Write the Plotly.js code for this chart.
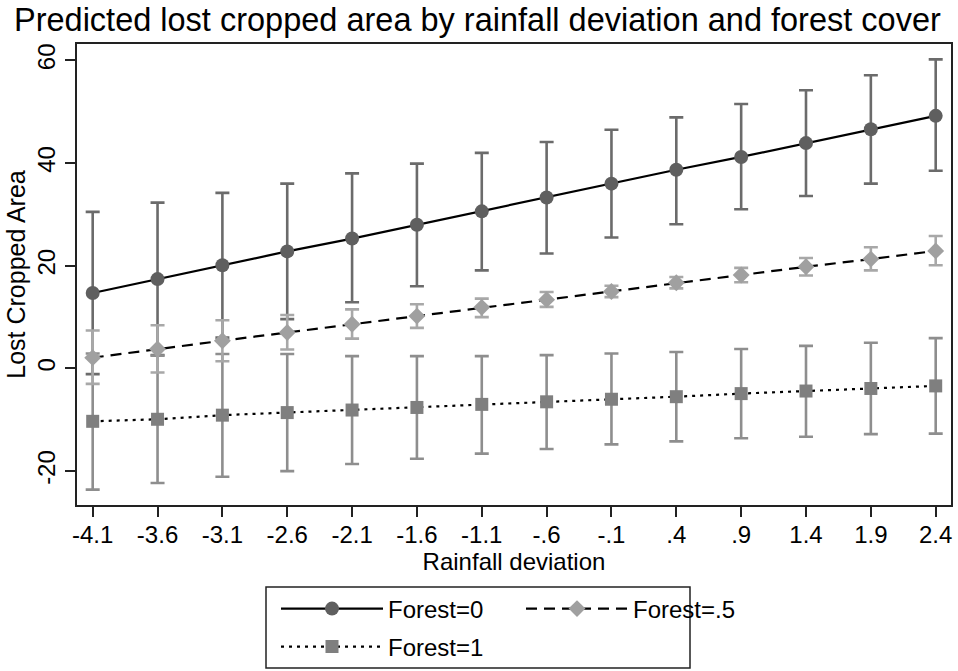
<!DOCTYPE html>
<html><head><meta charset="utf-8">
<script src="https://cdn.plot.ly/plotly-3.0.1.min.js"></script>
<style>html,body{margin:0;padding:0;background:#fff}#chart{width:958px;height:671px}</style>
</head><body><div id="chart"></div>
<script>
const rainfall = [-4.1,-3.6,-3.1,-2.6,-2.1,-1.6,-1.1,-0.6,-0.1,0.4,0.9,1.4,1.9,2.4];
const tickLabels = ["-4.1","-3.6","-3.1","-2.6","-2.1","-1.6","-1.1","-.6","-.1",".4",".9","1.4","1.9","2.4"];
const yTicks = [-20,0,20,40,60];
const yTickLabels = ["-20","0","20","40","60"];

const forest0   = [14.7,17.4,20.1,22.8,25.3,28.0,30.6,33.3,36.0,38.7,41.2,43.9,46.6,49.2];
const forest0Lo = [-1.1,2.6,6.0,9.6,12.9,16.0,19.1,22.4,25.5,28.1,31.0,33.6,36.0,38.5];
const forest0Hi = [30.5,32.3,34.2,36.0,38.0,39.9,42.0,44.1,46.5,48.9,51.5,54.2,57.1,60.2];

const forest05   = [2.1,3.8,5.4,7.0,8.6,10.2,11.9,13.4,15.0,16.7,18.2,19.8,21.3,22.9];
const forest05Lo = [-3.0,-0.8,1.4,3.7,5.8,7.9,10.0,12.0,13.9,15.6,16.8,18.1,19.1,20.1];
const forest05Hi = [7.4,8.4,9.4,10.4,11.5,12.5,13.6,14.9,16.1,17.8,19.6,21.5,23.6,25.8];

const forest1   = [-10.3,-9.9,-9.1,-8.6,-8.1,-7.6,-7.0,-6.5,-6.0,-5.5,-4.9,-4.4,-3.9,-3.4];
const forest1Lo = [-23.6,-22.3,-21.1,-20.0,-18.6,-17.6,-16.6,-15.7,-14.8,-14.2,-13.6,-13.3,-12.8,-12.7];
const forest1Hi = [2.9,2.5,2.8,2.8,2.4,2.4,2.4,2.6,2.9,3.2,3.8,4.4,5.0,5.9];

const FONT = 'Liberation Sans, Arial, sans-serif';
function plus(c, hi){ return hi.map((h,i)=>+(h-c[i]).toFixed(3)); }
function minus(c, lo){ return lo.map((l,i)=>+(c[i]-l).toFixed(3)); }

function ciTrace(y, lo, hi, color){
  return {x: rainfall, y: y, type:'scatter', mode:'markers',
    marker:{size:2, opacity:0},
    error_y:{type:'data', symmetric:false, array:plus(y,hi), arrayminus:minus(y,lo),
      color:color, thickness:2.6, width:7},
    showlegend:false, hoverinfo:'skip'};
}

const data = [
  ciTrace(forest0, forest0Lo, forest0Hi, '#6b6b6b'),
  ciTrace(forest1, forest1Lo, forest1Hi, '#8e8e8e'),
  ciTrace(forest05, forest05Lo, forest05Hi, '#a8a8a8'),
  {x: rainfall, y: forest0, name:'Forest=0', type:'scatter', mode:'lines+markers',
   line:{color:'#000', width:2.2}, marker:{symbol:'circle', size:14, color:'#5f5f5f'}, legend:'legend'},
  {x: rainfall, y: forest05, name:'Forest=.5', type:'scatter', mode:'lines+markers',
   line:{color:'#000', width:2.2, dash:'11px,7px'}, marker:{symbol:'diamond', size:13, color:'#a0a0a0'}, legend:'legend'},
  {x: rainfall, y: forest1, name:'Forest=1', type:'scatter', mode:'lines+markers',
   line:{color:'#000', width:2.2, dash:'3px,5px'}, marker:{symbol:'square', size:13, color:'#7f7f7f'}, legend:'legend2'}
];

const axisCommon = {
  showline:true, linewidth:2, linecolor:'#222', mirror:true,
  ticks:'outside', ticklen:10, tickwidth:2, tickcolor:'#222',
  showgrid:false, zeroline:false,
  tickfont:{family:FONT, size:24, color:'#000'}
};

const legendCommon = {
  orientation:'h', xanchor:'left', yanchor:'middle',
  font:{family:FONT, size:24, color:'#000'},
  bgcolor:'rgba(0,0,0,0)', borderwidth:0, itemwidth:102,
  entrywidth:128, entrywidthmode:'pixels', traceorder:'normal'
};

const layout = {
  width:958, height:671,
  margin:{l:77, r:7, t:44, b:166, autoexpand:false},
  paper_bgcolor:'#fff', plot_bgcolor:'#fff',
  font:{family:FONT, color:'#000'},
  title:{text:'Predicted lost cropped area by rainfall deviation and forest cover',
    font:{family:FONT, size:32.5, color:'#000'},
    x:14/958, xanchor:'left', xref:'container', y:1-20/671, yanchor:'middle', yref:'container'},
  xaxis: Object.assign({}, axisCommon, {
    range:[-4.221, 2.518], tickmode:'array', tickvals:rainfall, ticktext:tickLabels,
    ticklabelstandoff:-3,
    title:{text:'Rainfall deviation', font:{family:FONT, size:24, color:'#000'}, standoff:0}
  }),
  yaxis: Object.assign({}, axisCommon, {
    range:[-26.6, 63.2], tickmode:'array', tickvals:yTicks, ticktext:yTickLabels, tickangle:-90,
    title:{text:'Lost Cropped Area', font:{family:FONT, size:25, color:'#000'}, standoff:1}
  }),
  legend: Object.assign({}, legendCommon, {x:(276-77)/874, y:(505-609)/461}),
  legend2: Object.assign({}, legendCommon, {x:(276-77)/874, y:(505-647)/461}),
  shapes:[{type:'rect', xref:'paper', yref:'paper',
    x0:(266-77)/874, x1:(690-77)/874, y0:(505-668)/461, y1:(505-587)/461,
    line:{color:'#222', width:1.5}, fillcolor:'rgba(0,0,0,0)'}],
  showlegend:true
};

Plotly.newPlot('chart', data, layout, {displayModeBar:false, staticPlot:true});
</script>
</body></html>
